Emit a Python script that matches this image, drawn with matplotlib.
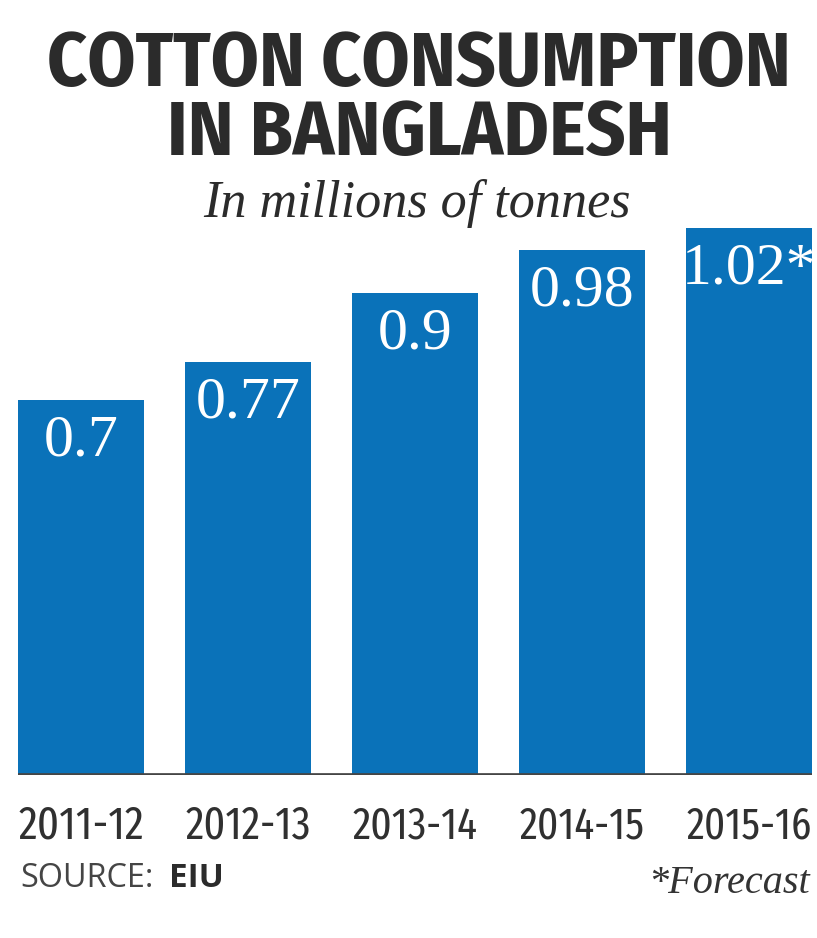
import matplotlib.pyplot as plt
from matplotlib.font_manager import fontManager

# Data
seasons = ['2011-12', '2012-13', '2013-14', '2014-15', '2015-16']
consumption = [0.70, 0.77, 0.90, 0.98, 1.02]
value_labels = ['0.7', '0.77', '0.9', '0.98', '1.02*']

BAR_COLOR = '#0a72b9'
TEXT_DARK = '#2b2b2b'

installed = {f.name for f in fontManager.ttflist}


def pick(*names):
    for n in names:
        if n in installed:
            return n
    return 'DejaVu Sans'


title_font = pick('Fira Sans Condensed', 'Roboto Condensed', 'DejaVu Sans')
tick_font = pick('Fira Sans Extra Condensed', 'Fira Sans Condensed', 'DejaVu Sans')

W, H = 817, 938
fig = plt.figure(figsize=(W / 100, H / 100), dpi=100)
fig.patch.set_facecolor('white')


def fx(px):
    return px / W


def fy(py):
    return 1 - py / H


def extent(t):
    return t.get_window_extent(renderer=fig.canvas.get_renderer())


def fit_width(t, target_px):
    # rescale a text's font size so it spans target_px
    t.set_fontsize(t.get_fontsize() * target_px / extent(t).width)
    return t.get_fontsize()


# axes: baseline at y=775 px, ~535 px per unit
ymax = 1.1
base_px = 775
top_px = base_px - ymax * 536
ax = fig.add_axes([fx(18), fy(base_px), fx(812) - fx(18), (base_px - top_px) / H])
x = list(range(len(seasons)))
ax.bar(x, consumption, width=0.755, color=BAR_COLOR, zorder=2)
ax.set_xlim(-0.38, 4.375)
ax.set_ylim(0, ymax)
ax.axhline(0, color='#454545', lw=3.4, zorder=3)
for s in ax.spines.values():
    s.set_visible(False)
ax.set_yticks([])
ax.set_xticks([])
ax.set_facecolor('none')

# category labels under the bars
for i, lab in enumerate(seasons):
    t = ax.text(i, 0, lab, transform=ax.get_xaxis_transform(), ha='center',
                va='baseline', fontsize=34, color='#303030', family=tick_font)
    t.set_y(-(838 - base_px) / (base_px - top_px))
    fit_width(t, 125)

# value labels inside the bars
for i, (v, lab) in enumerate(zip(consumption, value_labels)):
    ax.annotate(lab, (i, v), xytext=(0, -30), textcoords='offset points',
                ha='center', va='center', color='white', fontsize=43,
                family='Liberation Serif', zorder=4)

# title: two lines in one text, sized to the reference width
title_kw = dict(fontweight='bold', color=TEXT_DARK, family=title_font)
probe = fig.text(0.5, fy(88), 'COTTON CONSUMPTION', fontsize=48, **title_kw)
size = fit_width(probe, 744)
probe.remove()
probe = fig.text(0.5, fy(155), 'IN BANGLADESH', va='baseline', fontsize=size, **title_kw)
e1 = extent(probe)
probe.remove()
title = fig.text(fx(419), e1.y0 / H, 'COTTON CONSUMPTION\nIN BANGLADESH',
                 ha='center', va='bottom', multialignment='center',
                 fontsize=size, linespacing=1.0, **title_kw)
gap = extent(title).height - e1.height
title.set_linespacing(67 / gap)

fig.text(fx(417), fy(217), 'In millions of tonnes', ha='center', va='baseline',
         fontsize=37.5, style='italic', color=TEXT_DARK, family='Liberation Serif')

# footer
src = fig.text(fx(20), fy(887), 'SOURCE:', ha='left', va='baseline',
               fontsize=23, color='#454545', family='Open Sans')
fit_width(src, 134)
eiu = fig.text((extent(src).x1 + 16) / W, fy(887), 'EIU', ha='left', va='baseline',
               fontsize=24, fontweight='bold', color=TEXT_DARK, family='Open Sans')
fit_width(eiu, 55)
fig.text(fx(810), fy(893), '*Forecast', ha='right', va='baseline',
         fontsize=29, style='italic', color='#333333', family='Liberation Serif')

fig.savefig('out.png', dpi=100, facecolor='white')
